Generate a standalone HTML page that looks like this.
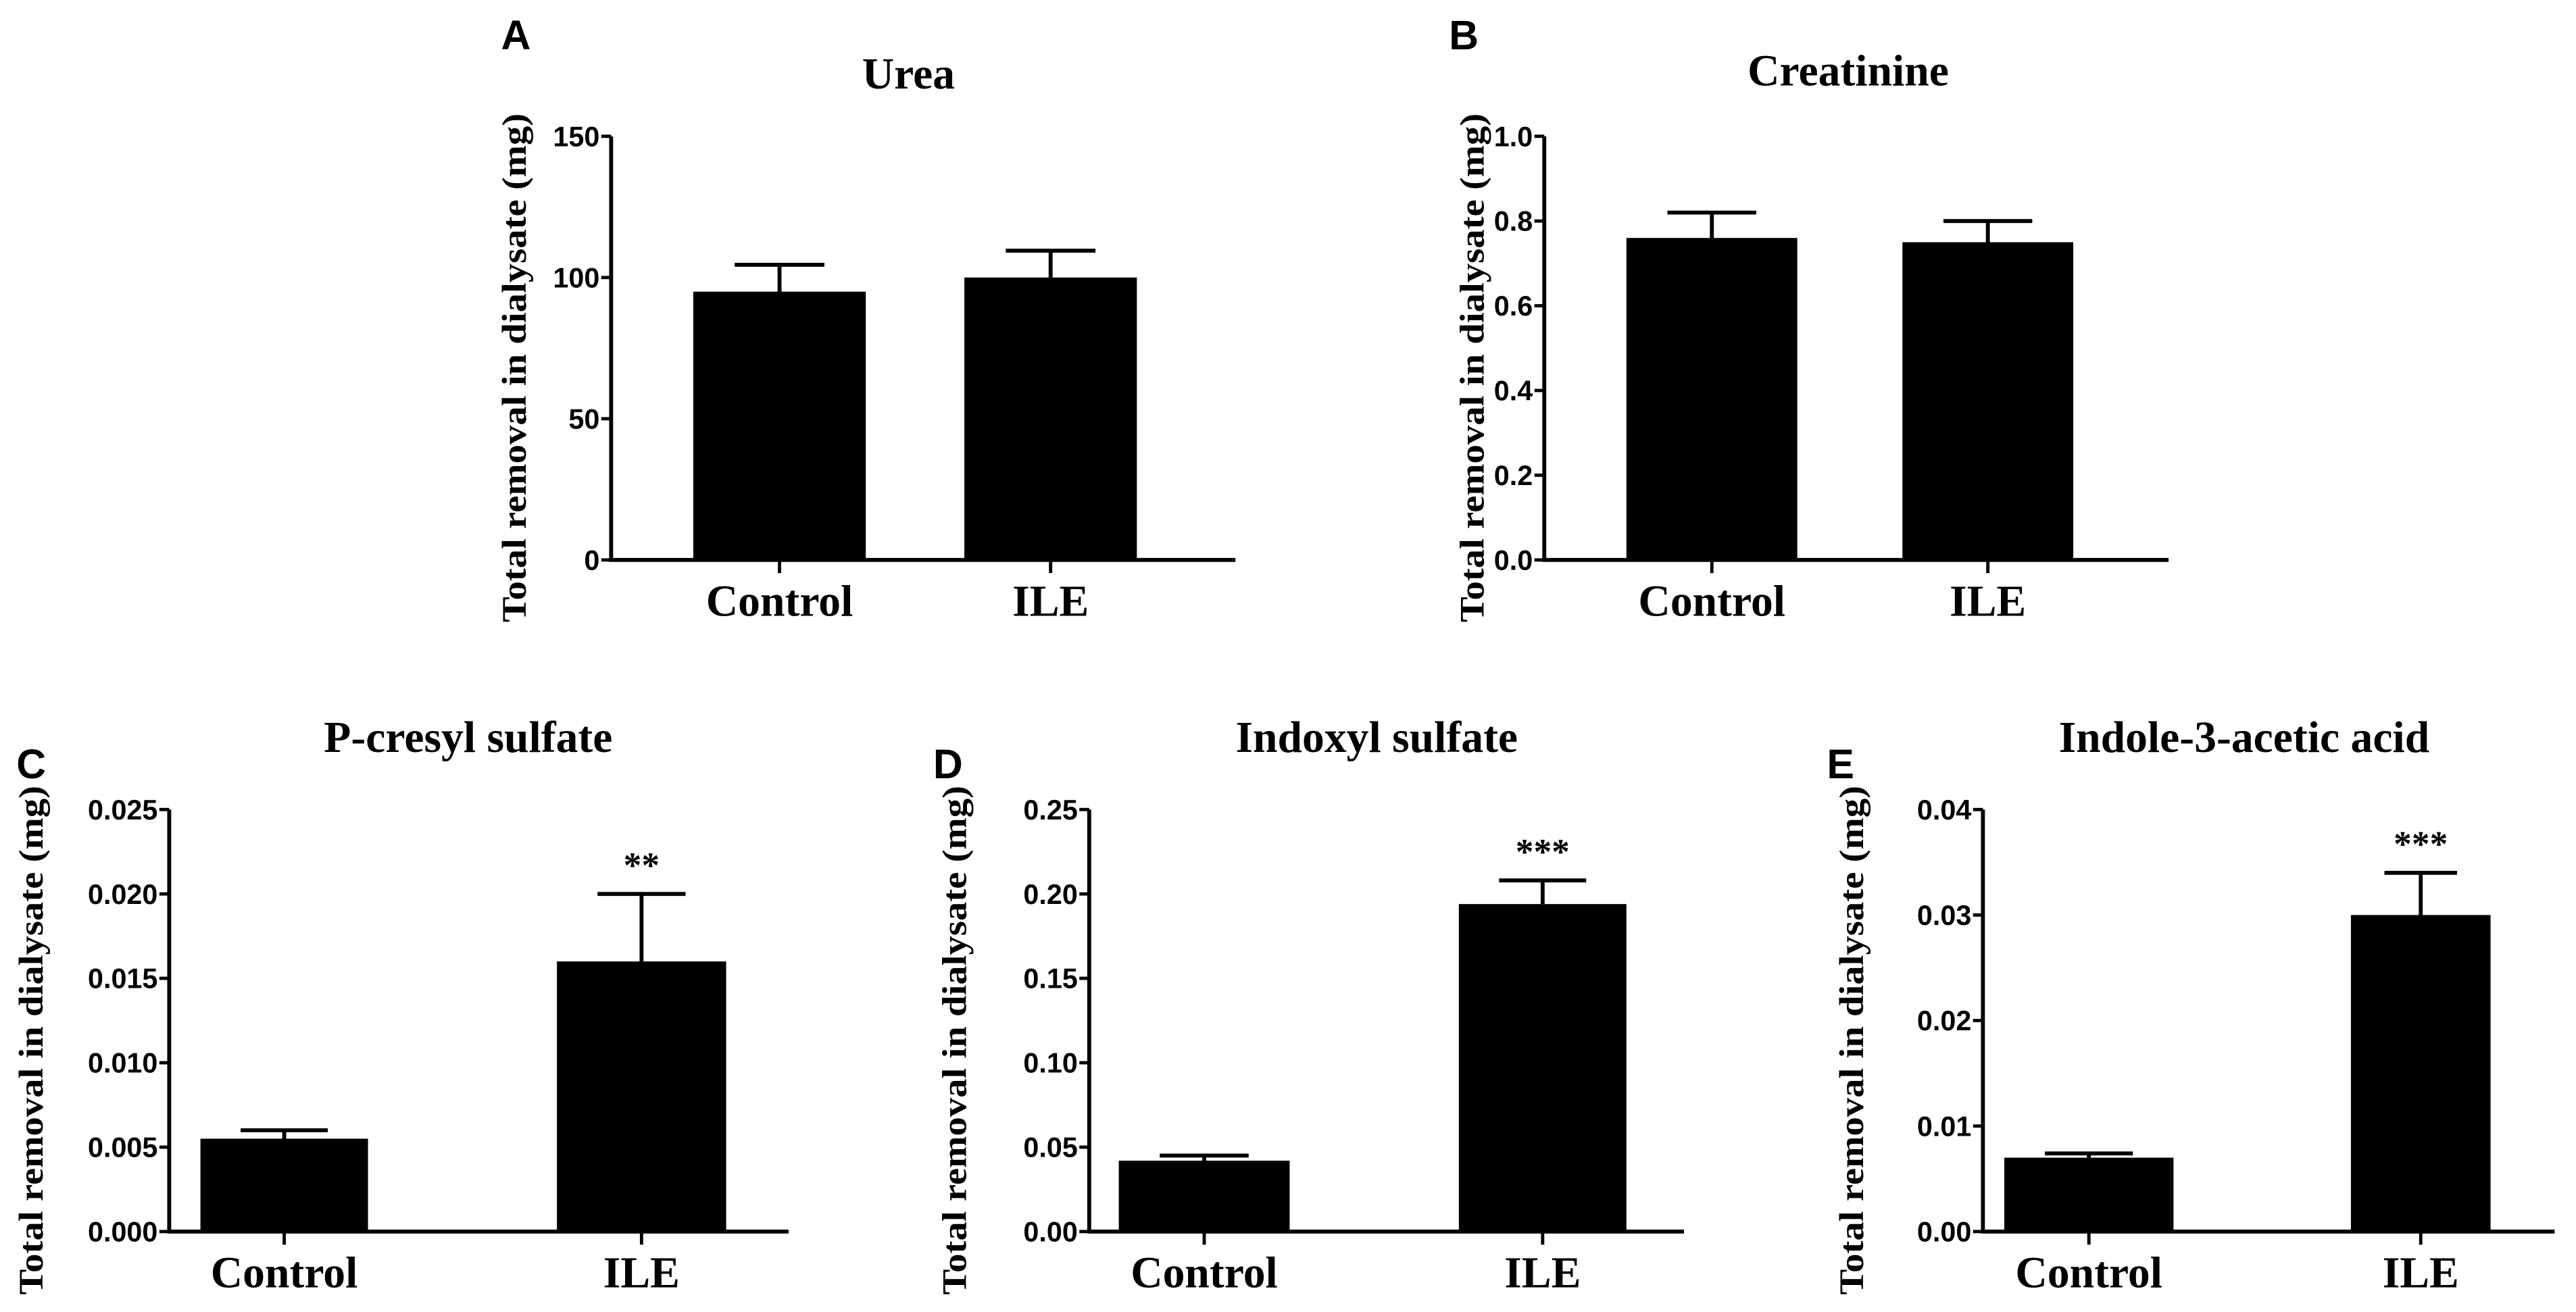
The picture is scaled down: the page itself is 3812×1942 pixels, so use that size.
<!DOCTYPE html>
<html><head><meta charset="utf-8">
<style>
html,body{margin:0;padding:0;background:#fff;}
svg{display:block;}
.tick{font-family:"Liberation Sans",sans-serif;font-weight:bold;font-size:17px;}
.title{font-family:"Liberation Serif",serif;font-weight:bold;font-size:27px;}
.cat{font-family:"Liberation Serif",serif;font-weight:bold;font-size:27px;}
.ytitle{font-family:"Liberation Serif",serif;font-weight:bold;font-size:21px;}
.letter{font-family:"Liberation Sans",sans-serif;font-weight:bold;font-size:25px;}
.star{font-family:"Liberation Serif",serif;font-weight:bold;font-size:22px;}
</style></head>
<body>
<svg id="fig" width="3812" height="1942" viewBox="0 0 1568 799" preserveAspectRatio="none" xmlns="http://www.w3.org/2000/svg"></svg>
<script>
const categories = ["Control", "ILE"];
const ureaMeans = [95, 100];
const ureaErr = [104.5, 109.5];
const ureaTicks = ["0", "50", "100", "150"];
const creatMeans = [0.76, 0.75];
const creatErr = [0.82, 0.80];
const creatTicks = ["0.0", "0.2", "0.4", "0.6", "0.8", "1.0"];
const pcsMeans = [0.0055, 0.016];
const pcsErr = [0.006, 0.020];
const pcsTicks = ["0.000", "0.005", "0.010", "0.015", "0.020", "0.025"];
const isMeans = [0.042, 0.194];
const isErr = [0.045, 0.208];
const isTicks = ["0.00", "0.05", "0.10", "0.15", "0.20", "0.25"];
const iaaMeans = [0.007, 0.030];
const iaaErr = [0.0074, 0.034];
const iaaTicks = ["0.00", "0.01", "0.02", "0.03", "0.04"];
const sigMarks = [["", ""], ["", ""], ["", "**"], ["", "***"], ["", "***"]];

const NS = "http://www.w3.org/2000/svg";
const svg = document.getElementById("fig");
function mk(tag, attrs, parent) {
  const e = document.createElementNS(NS, tag);
  for (const k in attrs) e.setAttribute(k, attrs[k]);
  (parent || svg).appendChild(e);
  return e;
}

const panels = [
  {id:"a", letter:"A", title:"Urea", means:ureaMeans, err:ureaErr, ticks:ureaTicks,
   ax:372, top:83, bot:341, xEnd:752, bars:[[422,527],[587,692]], lx:305, ly:30, tx:553, ty:54, yx:320},
  {id:"b", letter:"B", title:"Creatinine", means:creatMeans, err:creatErr, ticks:creatTicks,
   ax:940, top:83, bot:341, xEnd:1320, bars:[[990,1094],[1158,1262]], lx:882, ly:30, tx:1125, ty:52, yx:903},
  {id:"c", letter:"C", title:"P-cresyl sulfate", means:pcsMeans, err:pcsErr, ticks:pcsTicks,
   ax:103, top:493, bot:750, xEnd:480, bars:[[122,224],[339,442]], lx:10, ly:474, tx:285, ty:458, yx:26},
  {id:"d", letter:"D", title:"Indoxyl sulfate", means:isMeans, err:isErr, ticks:isTicks,
   ax:663, top:493, bot:750, xEnd:1025, bars:[[681,785],[888,990]], lx:568, ly:474, tx:838, ty:458, yx:588},
  {id:"e", letter:"E", title:"Indole-3-acetic acid", means:iaaMeans, err:iaaErr, ticks:iaaTicks,
   ax:1207, top:493, bot:750, xEnd:1555, bars:[[1220,1323],[1431,1516]], lx:1112, ly:474, tx:1366, ty:458, yx:1134}
];

panels.forEach((p, pi) => {
  const g = mk("g", {});
  
  
  const maxV = parseFloat(p.ticks[p.ticks.length - 1]);
  const y = v => p.bot - (v / maxV) * (p.bot - p.top);

  let t = mk("text", {x:p.lx, y:p.ly, class:"letter"}, g); t.textContent = p.letter;
   
  t = mk("text", {x:p.tx, y:p.ty, class:"title", "text-anchor":"middle"}, g); t.textContent = p.title;
   
  const cy = (p.top + p.bot) / 2 + 12;
  t = mk("text", {x:p.yx, y:cy, class:"ytitle", "text-anchor":"middle", textLength:310, lengthAdjust:"spacingAndGlyphs", transform:`rotate(-90 ${p.yx} ${cy})`}, g);
  t.textContent = "Total removal in dialysate (mg)";
   

  p.means.forEach((m, i) => {
    const [x0, x1] = p.bars[i];
    const r = mk("rect", {x:x0, y:y(m), width:x1 - x0, height:p.bot - y(m), fill:"#000"}, g);
    
    
    const cx = (x0 + x1) / 2, ye = y(p.err[i]), hw = (x1 - x0) * 0.26;
    const e = mk("path", {d:`M${cx} ${y(m)}V${ye}M${cx - hw} ${ye}H${cx + hw}`, stroke:"#000", "stroke-width":2.4, fill:"none"}, g);
     
    const c = mk("text", {x:cx, y:p.bot + 34, class:"cat", "text-anchor":"middle"}, g); c.textContent = categories[i];
     
    mk("line", {x1:cx, x2:cx, y1:p.bot, y2:p.bot + 8, stroke:"#000", "stroke-width":2}, g);
    const s = sigMarks[pi][i];
    if (s) {
      const st = mk("text", {x:cx, y:ye - 10, class:"star", "text-anchor":"middle"}, g); st.textContent = s;
       
    }
  });

  const ax = mk("path", {d:`M${p.ax} ${p.top}V${p.bot}H${p.xEnd}`, stroke:"#000", "stroke-width":2.4, fill:"none"}, g);
   
  p.ticks.forEach(tk => {
    const ty = y(parseFloat(tk));
    mk("line", {x1:p.ax - 6, x2:p.ax, y1:ty, y2:ty, stroke:"#000", "stroke-width":2}, g);
    const tl = mk("text", {x:p.ax - 7, y:ty + 6, class:"tick", "text-anchor":"end"}, g); tl.textContent = tk;
     
  });
});
</script>
</body></html>
